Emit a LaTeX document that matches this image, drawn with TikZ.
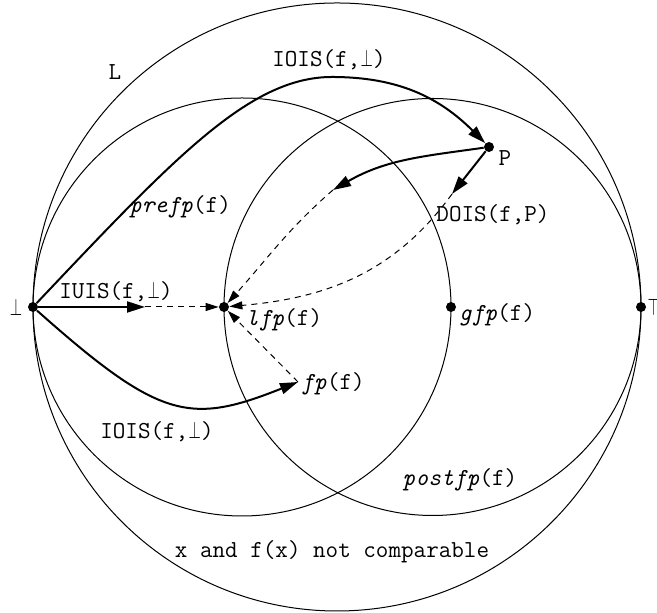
\documentclass[tikz,border=0pt]{standalone}
\usepackage{fontspec}
\usepackage{graphicx}
\usetikzlibrary{arrows.meta}
\newcommand\mybot{\makebox[0.525em]{\scalebox{0.66}[1]{$\bot$}}}
\newcommand\mytop{\makebox[0.525em]{\scalebox{0.66}[1]{$\top$}}}
\begin{document}
\begin{tikzpicture}[x=0.5pt,y=0.5pt,
  lbl/.style={font=\ttfamily\fontsize{12.2}{13}\selectfont, inner sep=0pt},
  dot/.style={circle, fill, inner sep=0pt, minimum size=5pt},
  ring/.style={line width=0.5pt},
  thickarr/.style={line width=1pt, -{Triangle[length=9pt,width=5.5pt]}},
  dasharr/.style={line width=0.5pt, dash pattern=on 3pt off 2.5pt, -{Triangle[length=6.5pt,width=4pt]}}
]
\useasboundingbox (0,0) rectangle (657,613);
% regions
\draw[ring] (337,306) circle[radius=304];
\draw[ring] (242,306) circle[radius=209];
\draw[ring] (432.5,306) circle[radius=208.5];
% points
\node[dot] (bot) at (33,306) {};
\node[dot] (lfp) at (224,306) {};
\node[dot] (gfp) at (451,306) {};
\node[dot] (top) at (641,306) {};
\node[dot] (P) at (489,466) {};
\coordinate (m1) at (333,423);
\coordinate (m2) at (452,419);
\coordinate (m3) at (145,306);
\coordinate (fp) at (298,231);
\coordinate (tt) at (332,536);
% connectors
\draw[thickarr] (bot) .. controls (175,456) and (250,536) .. (tt) to[out=0,in=135] (P);
\draw[thickarr] (P) to[out=188,in=30] (m1);
\draw[dasharr] (m1) to[out=221,in=48] (lfp);
\draw[thickarr] (P) -- (m2);
\draw[dasharr] (m2) to[out=234,in=5] (lfp);
\draw[thickarr] (bot) -- (m3);
\draw[dasharr] (m3) -- (lfp);
\draw[thickarr] (bot) .. controls (160,193) and (190,188) .. (fp);
\draw[dasharr] (fp) -- (lfp);
% labels
\node[lbl] (lL) at (115,541) {L};
\node[lbl] (lIOIS1) at (329,553) {IOIS(f,\mybot)};
\node[lbl] (lpre) at (180,406) {\textit{prefp}(f)};
\node[lbl] (lIUIS) at (116,321) {IUIS(f,\mybot)};
\node[lbl] (lbot) at (16,306) {\mybot};
\node[lbl] (lP) at (505,455) {P};
\node[lbl] (lDOIS) at (493,398) {DOIS(f,P)};
\node[lbl] (llfp) at (284,293) {\textit{lfp}(f)};
\node[lbl] (lgfp) at (497,298) {\textit{gfp}(f)};
\node[lbl,anchor=west] (ltop) at (647,306) {\mytop};
\node[lbl,anchor=west] (lfp2) at (301,229) {\textit{fp}(f)};
\node[lbl] (lIOIS2) at (157,181) {IOIS(f,\mybot)};
\node[lbl] (lpost) at (460,133) {\textit{postfp}(f)};
\node[lbl] (lnc) at (332,61) {x and f(x) not comparable};
\end{tikzpicture}
\end{document}
